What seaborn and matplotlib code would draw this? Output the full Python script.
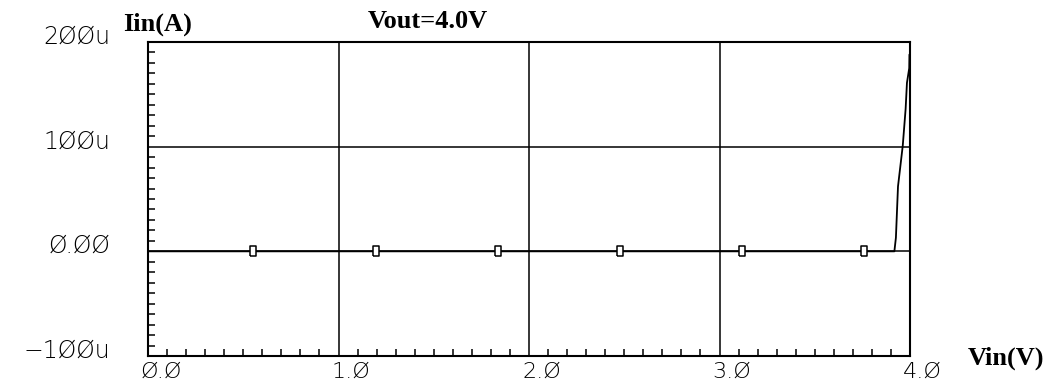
import matplotlib
matplotlib.use("Agg")
import matplotlib.pyplot as plt
from matplotlib.transforms import ScaledTranslation
import pandas as pd
import seaborn as sns

# trace Iin vs Vin (current in uA)
vin = [0.0, 3.918, 3.926, 3.937, 3.962, 3.977, 3.984, 3.996, 3.997]
iin_ua = [0.0, 0.0, 13, 62, 101, 136, 161, 175, 188]

# trace markers sitting on the curve
marker_vin = [0.552, 1.198, 1.837, 2.478, 3.118, 3.759]
marker_iin = [0.0, 0.0, 0.0, 0.0, 0.0, 0.0]

xticks = [0.0, 1.0, 2.0, 3.0, 4.0]
xtick_labels = ["Ø.Ø", "1.Ø", "2.Ø", "3.Ø", "4.Ø"]
yticks = [-100, 0, 100, 200]
ytick_labels = ["−1ØØu", "Ø.ØØ", "1ØØu", "2ØØu"]

sns.set_style("white")
plt.rcParams["font.family"] = ["DejaVu Sans"]
plt.rcParams["text.color"] = "black"
plt.rcParams["xtick.color"] = "black"
plt.rcParams["ytick.color"] = "black"

fig = plt.figure(figsize=(10.51, 3.88), dpi=100)
ax = fig.add_axes([148 / 1051, 32 / 388, 762 / 1051, 314 / 388])

dados = pd.DataFrame({"Vin": vin, "Iin": iin_ua})
sns.lineplot(data=dados, x="Vin", y="Iin", sort=False, estimator=None,
             color="black", linewidth=1.3, ax=ax, zorder=3)

rect = [(-0.5, -1), (0.5, -1), (0.5, 1), (-0.5, 1), (-0.5, -1)]
sns.scatterplot(x=marker_vin, y=marker_iin, marker=rect, s=52,
                facecolor="white", edgecolor="black", linewidth=1.1,
                ax=ax, zorder=4)

ax.set_xlim(0, 4)
ax.set_ylim(-100, 200)
ax.set_xlabel("")
ax.set_ylabel("")

# grid at major positions
for gx in [1.0, 2.0, 3.0]:
    ax.axvline(gx, color="black", linewidth=1.1, zorder=2)
for gy in [0, 100]:
    ax.axhline(gy, color="black", linewidth=1.1, zorder=2)

for s in ax.spines.values():
    s.set_color("black")
    s.set_linewidth(1.5)

ax.set_xticks(xticks)
ax.set_xticklabels(xtick_labels)
ax.set_yticks(yticks)
ax.set_yticklabels(ytick_labels)
ax.set_xticks([i / 10 for i in range(41)], minor=True)
ax.set_yticks(list(range(-100, 201, 10)), minor=True)
ax.tick_params(which="major", length=0, labelsize=16, labelcolor="black")
ax.tick_params(which="minor", direction="in", length=5, width=1.1,
               color="black", bottom=True, left=True, top=False, right=False)
ax.tick_params(axis="x", which="major", pad=4)
ax.tick_params(axis="y", which="major", pad=27)

for lab in ax.get_xticklabels():
    lab.set_horizontalalignment("left")
    lab.set_fontweight("light")
    lab.set_transform(lab.get_transform() + ScaledTranslation(-0.07, 0, fig.dpi_scale_trans))
for lab in ax.get_yticklabels():
    lab.set_fontweight("light")
    lab.set_fontsize(17)
    lab.set_transform(lab.get_transform() + ScaledTranslation(0, 0.08, fig.dpi_scale_trans))

serif = ["Liberation Serif", "DejaVu Serif"]
fig.text(123 / 1051, 1 - 24 / 388, "Iin(A)", family=serif, weight="bold",
         fontsize=19, ha="left", va="center")
fig.text(428 / 1051, 1 - 21 / 388, "Vout=4.0V", family=serif, weight="bold",
         fontsize=19, ha="center", va="center")
fig.text(1006 / 1051, 1 - 358 / 388, "Vin(V)", family=serif, weight="bold",
         fontsize=19, ha="center", va="center")

fig.savefig("out.png", dpi=100)
